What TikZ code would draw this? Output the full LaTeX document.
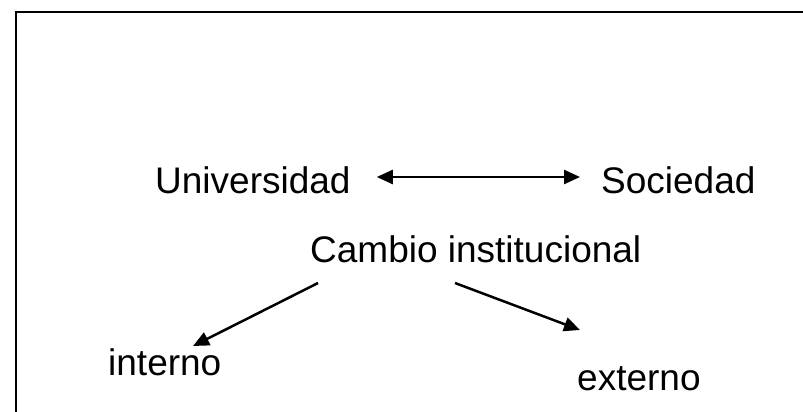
\documentclass[tikz,border=0pt]{standalone}
\usepackage{fontspec}
\setmainfont{Liberation Sans}
\usetikzlibrary{arrows.meta}
\begin{document}
\begin{tikzpicture}[x=1pt,y=-1pt,
  lbl/.style={inner sep=0pt,anchor=base west,font=\fontsize{37}{40}\selectfont},
  arr/.style={line width=2.5pt,-{Triangle[length=16pt,width=14pt]}},
  darr/.style={line width=2.5pt,{Triangle[length=16pt,width=14pt]}-{Triangle[length=16pt,width=14pt]}},
  frame/.style={line width=2.5pt}]
\useasboundingbox (0,0) rectangle (803,412);
\draw[frame] (16,412) -- (16,12) -- (803,12);
\node[lbl] (U) at (155,193) {Universidad};
\node[lbl] (S) at (601,193) {Sociedad};
\node[lbl] (C) at (310,262) {Cambio institucional};
\node[lbl] (I) at (108,375) {interno};
\node[lbl] (E) at (577,390) {externo};
\draw[darr] ([shift={(26,-16)}]U.base east) -- ([shift={(-21,-16)}]S.base west);
\draw[arr] ([shift={(8,21)}]C.base west) -- ([shift={(85,-29)}]I.base west);
\draw[arr] ([shift={(145,21)}]C.base west) -- ([shift={(3,-60)}]E.base west);
\end{tikzpicture}
\end{document}
